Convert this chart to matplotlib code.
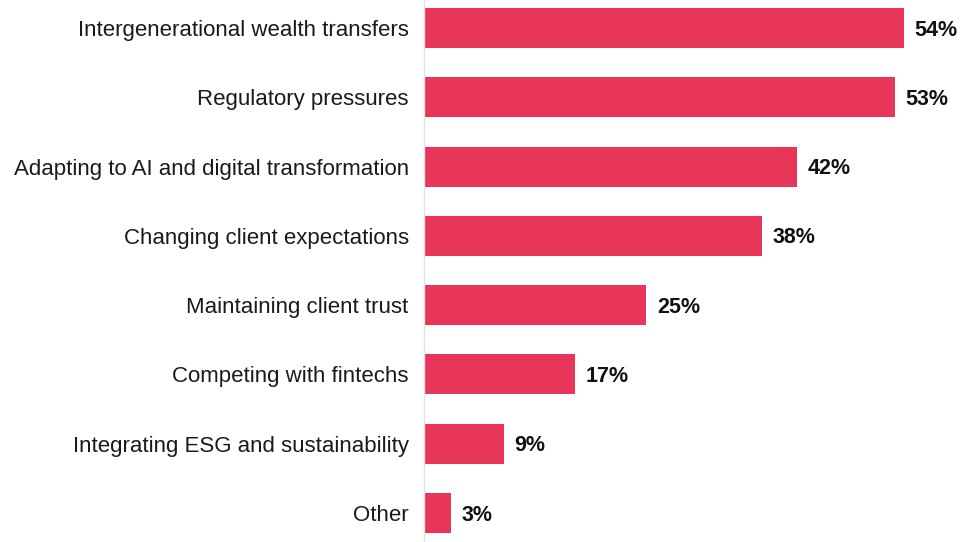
import matplotlib
matplotlib.use("Agg")
import matplotlib.pyplot as plt

categories = [
    "Intergenerational wealth transfers",
    "Regulatory pressures",
    "Adapting to AI and digital transformation",
    "Changing client expectations",
    "Maintaining client trust",
    "Competing with fintechs",
    "Integrating ESG and sustainability",
    "Other",
]
values = [54, 53, 42, 38, 25, 17, 9, 3]
value_labels = ["54%", "53%", "42%", "38%", "25%", "17%", "9%", "3%"]

plt.rcParams['font.family'] = ['Liberation Sans', 'DejaVu Sans']

fig = plt.figure(figsize=(9.6, 5.42), dpi=100)
ax = fig.add_axes([424/960, 0, (60*8.889)/960, 1])

y = list(range(len(categories)))
ax.barh(y, values, height=0.577, color="#E8355A", zorder=2)
ax.set_xlim(0, 60)
ax.set_ylim(7.419, -0.404)

for yi, v, lab in zip(y, values, value_labels):
    ax.text(v + 1.2, yi + 0.03, lab, va="center", ha="left", fontsize=15.5,
            fontweight="bold", color="#111111")

ax.set_yticks(y)
ax.set_yticklabels(categories, fontsize=16, color="#1a1a1a")
ax.tick_params(axis="y", length=0, pad=11)
ax.set_xticks([])
for s in ["top", "right", "bottom"]:
    ax.spines[s].set_visible(False)
ax.spines["left"].set_color("#e2e2e2")
ax.spines["left"].set_linewidth(1)

fig.savefig("out.png", dpi=100)
